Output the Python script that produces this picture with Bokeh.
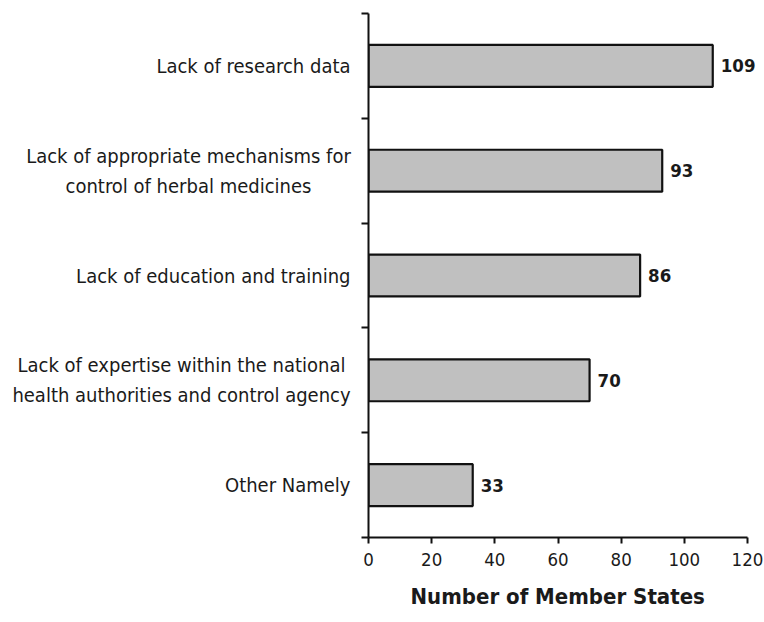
from bokeh.plotting import figure
from bokeh.layouts import row
from bokeh.models import Range1d, LabelSet, ColumnDataSource, FixedTicker, Title
from bokeh.core.properties import value
from bokeh.embed import file_html
from bokeh.resources import INLINE

# Reported constraints and the number of Member States citing each
categories = [
    "Lack of research data",
    "Lack of appropriate mechanisms for\ncontrol of herbal medicines",
    "Lack of education and training",
    "Lack of expertise within the national\nhealth authorities and control agency",
    "Other Namely",
]
counts = [109, 93, 86, 70, 33]
x_ticks = [0, 20, 40, 60, 80, 100, 120]
x_title = "Number of Member States"

FONT = "'DejaVu Sans Condensed', 'DejaVu Sans', sans-serif"
TEXT = "#1a1a1a"
n = len(categories)
ys = [i + 0.5 for i in range(n)]
y_range = Range1d(n, 0)
TOP, BOTTOM = 13, 85

# ---- label panel: category names, right edge a fixed distance from the axis
LABEL_W = 361
RIGHT_EDGE = 350
block_w = {1: 324, 3: 338}          # widest line of each two-line name
lx, la = [], []
for i, c in enumerate(categories):
    if "\n" in c:
        lx.append(RIGHT_EDGE - block_w[i] / 2)
        la.append("center")
    else:
        lx.append(RIGHT_EDGE)
        la.append("right")

lab = figure(width=LABEL_W, height=622, x_range=Range1d(0, LABEL_W), y_range=y_range,
             x_axis_type=None, y_axis_type=None,
             output_backend="svg", toolbar_location=None,
             min_border_left=0, min_border_right=0,
             min_border_top=TOP, min_border_bottom=BOTTOM)
lab.outline_line_color = None
lab.xgrid.grid_line_color = None
lab.ygrid.grid_line_color = None
lab.text(x=lx, y=ys, text=categories, text_align=la, text_baseline="middle",
         text_font=value(FONT), text_font_size="20px", text_color=TEXT,
         text_line_height=1.25)

# ---- bar chart
FRAME_W = 764 - LABEL_W - 7          # plot area runs to the window edge
X_PX_PER_UNIT = 379 / 120            # 0..120 spans 379 px
x_end = FRAME_W / X_PX_PER_UNIT

p = figure(
    width=764 - LABEL_W, height=622,
    x_range=Range1d(0, x_end), y_range=y_range,
    output_backend="svg", toolbar_location=None,
    min_border_left=7, min_border_right=0,
    min_border_top=TOP, min_border_bottom=BOTTOM,
)
p.outline_line_color = None
p.xgrid.grid_line_color = None
p.ygrid.grid_line_color = None
p.background_fill_color = "white"
p.border_fill_color = "white"

src = ColumnDataSource(dict(y=ys, v=counts, t=[str(c) for c in counts]))
p.hbar(y="y", left=0, right="v", height=0.4, source=src,
       fill_color="#c0c0c0", line_color="#111111", line_width=2.2)

# value labels at the end of each bar
p.add_layout(LabelSet(x="v", y="y", text="t", source=src, x_offset=8,
                      text_align="left", text_baseline="middle",
                      text_font=value(FONT), text_font_style="bold",
                      text_font_size="18.5px", text_color=TEXT))

# x axis, line limited to 0..120
xa = p.xaxis[0]
xa.ticker = x_ticks
xa.bounds = (0, 120)
xa.axis_line_width = 2
xa.axis_line_color = "#111111"
xa.major_tick_line_width = 2
xa.major_tick_line_color = "#111111"
xa.major_tick_in = 0
xa.major_tick_out = 6
xa.minor_tick_line_color = None
xa.major_label_standoff = 9
xa.major_label_text_font = FONT
xa.major_label_text_font_size = "18.5px"
xa.major_label_text_color = TEXT

# axis title, centred under the 0..120 span rather than the whole plot area
p.add_layout(Title(text=x_title, align="left", offset=42, standoff=27,
                   text_font=FONT, text_font_style="bold",
                   text_font_size="22px", text_color=TEXT), "below")

# y axis: short ticks at the category boundaries only
ya = p.yaxis[0]
ya.ticker = FixedTicker(ticks=[], minor_ticks=list(range(n + 1)))
ya.axis_line_width = 2
ya.axis_line_color = "#111111"
ya.major_tick_line_color = None
ya.major_tick_in = 0
ya.major_tick_out = 0
ya.major_label_standoff = 0
ya.minor_tick_line_width = 2
ya.minor_tick_line_color = "#111111"
ya.minor_tick_in = 0
ya.minor_tick_out = 7

open("out.html", "w").write(file_html(row(lab, p), INLINE))
